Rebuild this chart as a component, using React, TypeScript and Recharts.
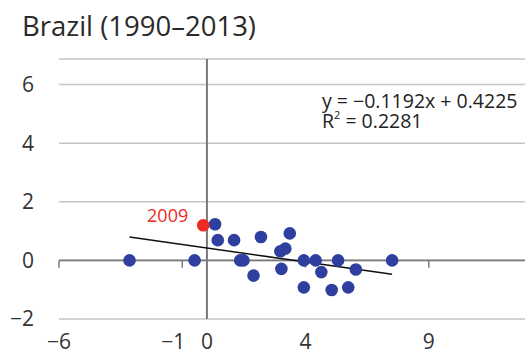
import React from 'react';
import {
  ScatterChart, Scatter, XAxis, YAxis, CartesianGrid, ReferenceLine, LabelList,
} from 'recharts';

const titleText = 'Brazil (1990–2013)';
const equationText = 'y = −0.1192x + 0.4225';
const r2Label = ' = 0.2281';

const growthX = [-3.14, -0.5, 0.33, 0.44, 1.1, 1.35, 1.48, 1.89, 2.19, 2.98, 3.02, 3.18, 3.36, 3.93, 3.93, 4.41, 4.64, 5.06, 5.32, 5.73, 6.04, 7.51];
const changeY = [0, 0, 1.23, 0.69, 0.69, 0, 0, -0.52, 0.8, 0.31, -0.29, 0.4, 0.92, 0, -0.92, 0, -0.4, -1.01, 0, -0.92, -0.31, 0];

const highlightYears = ['2009'];
const highlightX = [-0.15];
const highlightY = [1.2];

const slope = -0.1192;
const intercept = 0.4225;

const xTicks = [-6, -1, 0, 4, 9];
const yTicks = [-2, 0, 2, 4, 6];
const xAxisMarks = [-6, -1, 4, 9];

const points = growthX.map((x, i) => ({ x, y: changeY[i] }));
const highlight = highlightX.map((x, i) => ({ x, y: highlightY[i], year: highlightYears[i] }));
const xMin = Math.min(...growthX);
const xMax = Math.max(...growthX);

const FONT = '"Open Sans", "Noto Sans", sans-serif';
const minus = (v: number) => String(v).replace('-', '−');

const XTick = (props: any) => {
  const { x, y, payload } = props;
  const isNegOne = payload.value === -1;
  return (
    <text
      x={isNegOne ? x + 3 : x}
      y={y}
      dy={22}
      textAnchor={isNegOne ? 'end' : 'middle'}
      fill="#333"
      fontSize={21}
      fontFamily={FONT}
    >
      {minus(payload.value)}
    </text>
  );
};

const YearLabel = (props: any) => {
  const { x, y, width, height, value } = props;
  const cx = x + width / 2;
  const cy = y + height / 2;
  return (
    <text x={cx - 15} y={cy - 3} textAnchor="end" fill="#ee2a24" fontSize={18} fontFamily={FONT}>
      {value}
    </text>
  );
};

export default function App() {
  return (
    <div style={{ position: 'absolute', left: 0, top: 0, width: 531, height: 359, background: '#fff', fontFamily: FONT }}>
      <svg width={531} height={60} style={{ position: 'absolute', left: 0, top: 0 }}>
        <text x={22} y={36} fontSize={27.5} fill="#2a2a2a" fontFamily={FONT}>{titleText}</text>
      </svg>
      <ScatterChart width={531} height={359} margin={{ top: 59, right: 6, left: 0, bottom: 0 }}>
        <CartesianGrid vertical={false} stroke="#c4c4c4" strokeWidth={1.5} />
        <XAxis
          type="number"
          dataKey="x"
          domain={[-6, 12.9]}
          ticks={xTicks}
          interval={0}
          allowDataOverflow
          axisLine={false}
          tickLine={false}
          height={40}
          tick={<XTick />}
        />
        <YAxis
          type="number"
          dataKey="y"
          domain={[-2, 6.87]}
          ticks={yTicks}
          interval={0}
          allowDataOverflow
          axisLine={false}
          tickLine={false}
          width={59}
          tickMargin={19}
          tickFormatter={minus}
          tick={{ fill: '#333', fontSize: 21, fontFamily: FONT }}
        />
        <ReferenceLine y={0} stroke="#7a7a7a" strokeWidth={1.8} />
        <ReferenceLine x={0} stroke="#7a7a7a" strokeWidth={2} />
        {xAxisMarks.map((m) => (
          <ReferenceLine
            key={m}
            segment={[{ x: m, y: 0 }, { x: m, y: -0.25 }]}
            stroke="#7a7a7a"
            strokeWidth={1.5}
          />
        ))}
        <ReferenceLine
          segment={[
            { x: xMin, y: slope * xMin + intercept },
            { x: xMax, y: slope * xMax + intercept },
          ]}
          stroke="#111"
          strokeWidth={1.5}
        />
        <Scatter data={points} fill="#2f3f9f" isAnimationActive={false} shape={(p: any) => <circle cx={p.cx} cy={p.cy} r={6.3} fill="#2f3f9f" />} />
        <Scatter data={highlight} fill="#ee2a24" isAnimationActive={false} shape={(p: any) => <circle cx={p.cx} cy={p.cy} r={6.3} fill="#ee2a24" />}>
          <LabelList dataKey="year" content={<YearLabel />} />
        </Scatter>
      </ScatterChart>
      <svg width={231} height={50} style={{ position: 'absolute', left: 300, top: 90 }}>
        <text x={22} y={18} fontSize={19.5} fill="#222" fontFamily={FONT}>{equationText}</text>
        <text x={22} y={38} fontSize={19.5} fill="#222" fontFamily={FONT}>
          R<tspan fontSize={11} dy={-9}>2</tspan><tspan dy={9}>{r2Label}</tspan>
        </text>
      </svg>
    </div>
  );
}
